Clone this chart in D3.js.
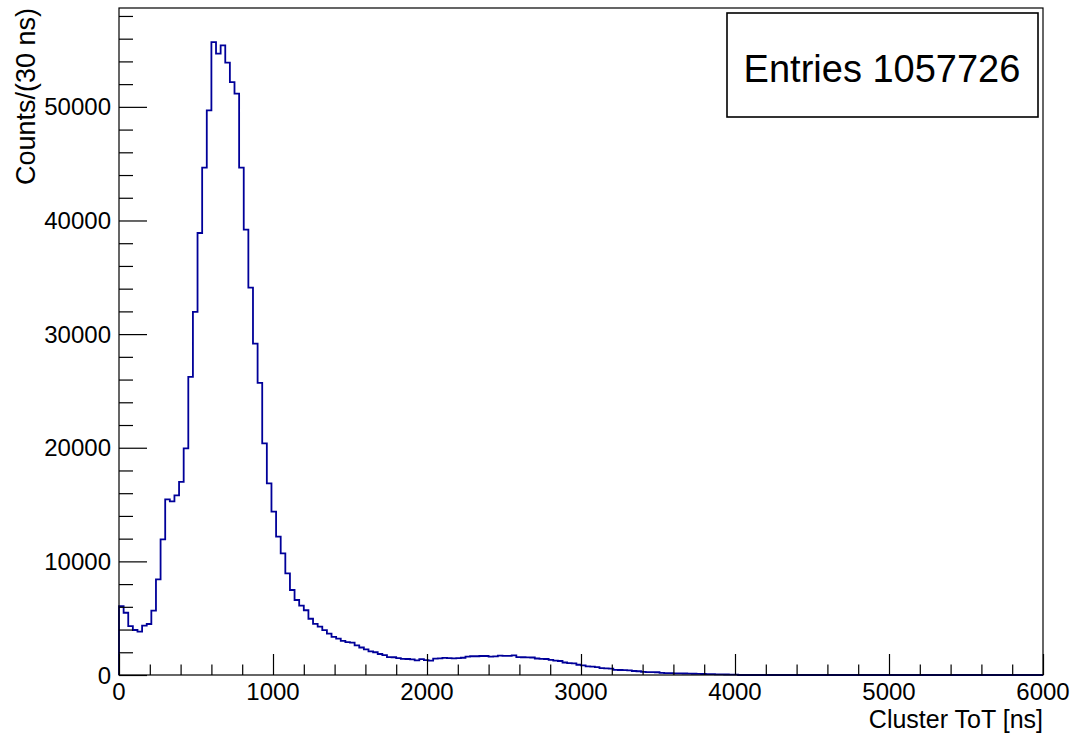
<!DOCTYPE html>
<html lang="en">
<head>
    <meta charset="UTF-8">
    <title>Cluster ToT</title>
    <script src="https://cdn.jsdelivr.net/npm/d3@7/dist/d3.min.js"></script>
    <style>
        body { margin: 0; background: #fff; }
        text { font-family: "Liberation Sans", Arial, Helvetica, sans-serif; fill: #000; }
    </style>
</head>
<body>
<div id="svgcanvas"></div>

<script>
    const width = 1074;
    const height = 734;

    // histogram: 200 bins of 30 ns from 0 to 6000 ns
    const BIN_WIDTH = 30;
    const counts = [
        6070, 5480, 4310, 3960, 3810, 4340, 4490, 5660, 8420, 11940,
        15450, 15280, 15800, 17000, 19940, 26240, 31960, 38900, 44650, 49690,
        55700, 54680, 55410, 53890, 52180, 51160, 44650, 39200, 34100, 29170,
        25710, 20380, 16860, 14370, 12170, 10700, 8940, 7480, 6600, 6100,
        5700, 4950, 4500, 4250, 3950, 3650, 3350, 3200, 3000, 2900,
        2850, 2600, 2420, 2250, 2080, 2000, 1850, 1750, 1580, 1560,
        1480, 1420, 1410, 1380, 1280, 1400, 1310, 1270, 1440, 1470,
        1510, 1480, 1470, 1480, 1520, 1610, 1650, 1650, 1670, 1670,
        1620, 1640, 1700, 1690, 1680, 1720, 1570, 1560, 1550, 1540,
        1450, 1420, 1410, 1330, 1260, 1230, 1100, 1050, 1030, 900,
        850, 760, 730, 700, 600, 590, 560, 450, 440, 430,
        400, 350, 330, 270, 260, 250, 240, 190, 170, 160,
        150, 140, 130, 120, 110, 100, 90, 80, 70, 60,
        50, 45, 40, 30
    ];
    const nBins = 200;

    const xTicks = [0, 1000, 2000, 3000, 4000, 5000, 6000];
    const yTicks = [0, 10000, 20000, 30000, 40000, 50000];

    const xTitle = "Cluster ToT [ns]";
    const yTitle = "Counts/(30 ns)";
    const statsText = "Entries 1057726";

    const margin = {left: 119, right: 31, top: 8, bottom: 59};
    const plotW = width - margin.left - margin.right;
    const plotH = height - margin.top - margin.bottom;

    const x = d3.scaleLinear().domain([0, 6000]).range([margin.left, margin.left + plotW]);
    const y = d3.scaleLinear().domain([0, 58700]).range([margin.top + plotH, margin.top]);

    const svg = d3.select("#svgcanvas")
        .append("svg")
        .attr("width", width)
        .attr("height", height);

    svg.append("rect")
        .attr("width", width)
        .attr("height", height)
        .attr("fill", "#fff");

    // step outline of the histogram
    const bins = d3.range(nBins).map(function (i) {
        return {x0: i * BIN_WIDTH, x1: (i + 1) * BIN_WIDTH, v: counts[i] || 0};
    });
    const pts = [[0, 0]];
    bins.forEach(function (b) {
        pts.push([b.x0, b.v]);
        pts.push([b.x1, b.v]);
    });
    pts.push([nBins * BIN_WIDTH, 0]);

    const line = d3.line()
        .x(function (d) { return x(d[0]); })
        .y(function (d) { return y(d[1]); });

    svg.append("path")
        .datum(pts)
        .attr("d", line)
        .attr("fill", "none")
        .attr("stroke", "#000099")
        .attr("stroke-width", 1.8)
        .attr("stroke-linejoin", "miter");

    // frame
    svg.append("rect")
        .attr("x", margin.left)
        .attr("y", margin.top)
        .attr("width", plotW)
        .attr("height", plotH)
        .attr("fill", "none")
        .attr("stroke", "#000")
        .attr("stroke-width", 1.2);

    // x axis, ticks pointing into the plot like ROOT
    const xMinor = d3.range(0, 6001, 200).filter(function (v) { return v % 1000 !== 0; });
    const xAxis = svg.append("g").attr("transform", "translate(0," + (margin.top + plotH) + ")");
    xAxis.call(d3.axisTop(x).tickValues(xTicks).tickSize(21).tickFormat(""));
    xAxis.append("g").call(d3.axisTop(x).tickValues(xMinor).tickSize(10.5).tickFormat(""));
    xAxis.selectAll(".domain").remove();
    xAxis.selectAll("line").attr("stroke", "#000").attr("stroke-width", 1.2);
    xAxis.selectAll("text.lbl").data(xTicks).enter()
        .append("text")
        .attr("class", "lbl")
        .attr("x", function (d) { return x(d); })
        .attr("y", 25)
        .attr("text-anchor", "middle")
        .attr("font-size", 24)
        .text(function (d) { return d; });

    // y axis
    const yMinor = d3.range(0, 58701, 2000).filter(function (v) { return v % 10000 !== 0; });
    const yAxis = svg.append("g").attr("transform", "translate(" + margin.left + ",0)");
    yAxis.call(d3.axisRight(y).tickValues(yTicks).tickSize(28).tickFormat(""));
    yAxis.append("g").call(d3.axisRight(y).tickValues(yMinor).tickSize(14).tickFormat(""));
    yAxis.selectAll(".domain").remove();
    yAxis.selectAll("line").attr("stroke", "#000").attr("stroke-width", 1.2);
    yAxis.selectAll("text.lbl").data(yTicks).enter()
        .append("text")
        .attr("class", "lbl")
        .attr("x", -8)
        .attr("y", function (d) { return y(d); })
        .attr("dy", "0.36em")
        .attr("text-anchor", "end")
        .attr("font-size", 24)
        .text(function (d) { return d; });

    // axis titles
    svg.append("text")
        .attr("x", margin.left + plotW)
        .attr("y", 728)
        .attr("text-anchor", "end")
        .attr("font-size", 25)
        .text(xTitle);

    svg.append("text")
        .attr("transform", "translate(35," + margin.top + ") rotate(-90)")
        .attr("text-anchor", "end")
        .attr("font-size", 27)
        .text(yTitle);

    // stats box
    svg.append("rect")
        .attr("x", 727)
        .attr("y", 13)
        .attr("width", 311)
        .attr("height", 104)
        .attr("fill", "#fff")
        .attr("stroke", "#000")
        .attr("stroke-width", 1.6);

    svg.append("text")
        .attr("x", 882)
        .attr("y", 82)
        .attr("text-anchor", "middle")
        .attr("font-size", 38)
        .text(statsText);
</script>

</body>
</html>
